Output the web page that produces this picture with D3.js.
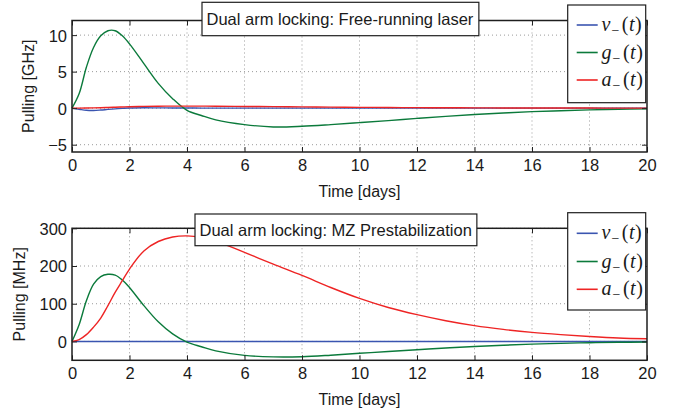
<!DOCTYPE html>
<html><head><meta charset="utf-8">
<script src="https://cdn.jsdelivr.net/npm/d3@7"></script>
<style>
body{margin:0;background:#fff}
svg{display:block}
</style>
</head><body>
<svg id="c" width="678" height="415"></svg>
<script>
// ---- data ----
const time = [0,0.25,0.5,0.75,1,1.25,1.5,1.75,2,2.5,3,3.5,4,4.5,5,6,7,8,9,10,11,12,13,14,15,16,17,18,19,20];

// Top panel: Free-running laser [GHz]
const vTop = [0,-0.15,-0.29,-0.32,-0.26,-0.17,-0.09,-0.03,0.02,0.05,0.04,0.03,0.02,0.01,0.01,0,0,0,0,0,0,0,0,0,0,0,0,0,0,0];
const gTop = [0,2.0,5.6,8.3,9.9,10.6,10.6,9.9,8.8,6.1,3.4,1.3,-0.3,-1.0,-1.6,-2.25,-2.57,-2.48,-2.25,-1.98,-1.7,-1.4,-1.12,-0.87,-0.66,-0.48,-0.35,-0.24,-0.16,-0.1];
const aTop = [0,0.005,0.018,0.038,0.062,0.095,0.13,0.161,0.192,0.24,0.265,0.277,0.28,0.276,0.266,0.236,0.205,0.175,0.143,0.114,0.09,0.071,0.055,0.042,0.032,0.024,0.018,0.013,0.009,0.007];

// Bottom panel: MZ Prestabilization [MHz]
const vBot = [0,0,0,0,0,0,0,0,0,0,0,0,0,0,0,0,0,0,0,0,0,0,0,0,0,0,0,0,0,0];
const gBot = [0,45,108,152,172,178,176,163,143,95,52,20,-2,-14,-25,-37,-41,-40.5,-36.5,-31.5,-26.5,-22,-17.5,-13.5,-10,-7,-5,-3.4,-2.3,-1.6];
const aBot = [0,5,18,38,62,95,130,161,192,240,265,277,280,276,266,236,205,175,143,114,90,71,55,42,32,24,18,13,9,7];

const xTicks = [0,2,4,6,8,10,12,14,16,18,20];
const yTicksTop = [-5,0,5,10];
const yTicksBot = [0,100,200,300];
const seriesLetters = ["v","g","a"];
const seriesColors = ["#3a55b0","#0b7a3b","#ee2424"];
const titles = ["Dual arm locking: Free-running laser","Dual arm locking: MZ Prestabilization"];
const yLabels = ["Pulling [GHz]","Pulling [MHz]"];
const xLabel = "Time [days]";

// ---- layout ----
const SANS = '"Liberation Sans",Arial,Helvetica,sans-serif';
const SERIF = '"Liberation Serif","DejaVu Serif",serif';
const svg = d3.select("#c");
const X0 = 72, X1 = 647;
const panels = [
  {top:20.5, bottom:152, domain:[-6,12], ticks:yTicksTop, series:[vTop,gTop,aTop], title:titles[0], ylabel:yLabels[0], ylabX:33.5,
   titleX:206.5, titleY:25, boxTop:2.3, boxBot:35.7, legTop:5, legH:97.7, legY:[25,52.5,80]},
  {top:228.3, bottom:360.3, domain:[-50,300], ticks:yTicksBot, series:[vBot,gBot,aBot], title:titles[1], ylabel:yLabels[1], ylabX:25,
   titleX:199.5, titleY:236, boxTop:214, boxBot:245.7, legTop:212.7, legH:97.3, legY:[233.3,261.5,289.3]}
];

const x = d3.scaleLinear().domain([0,20]).range([X0,X1]);

panels.forEach(p => {
  const y = d3.scaleLinear().domain(p.domain).range([p.bottom,p.top]);
  const g = svg.append("g");

  // grid
  const grid = g.append("g").attr("stroke","#9a9a9a").attr("stroke-width",1).attr("stroke-dasharray","1,3");
  xTicks.slice(1,-1).forEach(t => grid.append("line").attr("x1",x(t)).attr("x2",x(t)).attr("y1",p.top).attr("y2",p.bottom));
  p.ticks.forEach(t => grid.append("line").attr("x1",X0).attr("x2",X1).attr("y1",y(t)).attr("y2",y(t)));

  // curves
  const line = d3.line().x((d,i)=>x(time[i])).y(d=>y(d)).curve(d3.curveCatmullRom.alpha(0.5));
  p.series.forEach((s,k) => {
    g.append("path").datum(s).attr("d",line).attr("fill","none")
      .attr("stroke",seriesColors[k]).attr("stroke-width",1.4);
  });

  // axes with inward ticks on all sides
  const tl = 5;
  const axB = g.append("g").attr("transform",`translate(0,${p.bottom})`)
    .call(d3.axisBottom(x).tickValues(xTicks).tickSize(-tl).tickPadding(8).tickFormat(d3.format("d")));
  const axT = g.append("g").attr("transform",`translate(0,${p.top})`)
    .call(d3.axisTop(x).tickValues(xTicks).tickSize(-tl).tickFormat(""));
  const axL = g.append("g").attr("transform",`translate(${X0},0)`)
    .call(d3.axisLeft(y).tickValues(p.ticks).tickSize(-tl).tickPadding(5).tickFormat(d3.format("d")));
  const axR = g.append("g").attr("transform",`translate(${X1},0)`)
    .call(d3.axisRight(y).tickValues(p.ticks).tickSize(-tl).tickFormat(""));
  [axB,axT,axL,axR].forEach(a => {
    a.select(".domain").remove();
    a.selectAll(".tick line").attr("stroke","#222").attr("stroke-width",1);
    a.selectAll("text").style("font-size","16.5px").style("fill","#1a1a1a").style("font-family",SANS);
  });
  axB.selectAll("text").attr("dy","0.71em").attr("y",7);
  axL.selectAll("text").attr("dy","0.36em");
  g.append("rect").attr("x",X0).attr("y",p.top).attr("width",X1-X0).attr("height",p.bottom-p.top)
    .attr("fill","none").attr("stroke","#1e1e1e").attr("stroke-width",1.5);

  // axis labels
  g.append("text").attr("x",x(10)).attr("y",p.bottom+45).attr("text-anchor","middle")
    .style("font-family",SANS).style("font-size","16px").style("fill","#1a1a1a").text(xLabel);
  g.append("text").attr("transform",`translate(${p.ylabX},${(p.top+p.bottom)/2}) rotate(-90)`)
    .attr("text-anchor","middle").style("font-family",SANS).style("font-size","16px").style("fill","#1a1a1a").text(p.ylabel);

  // title box
  const tt = g.append("text").attr("x",p.titleX).attr("y",p.titleY)
    .style("font-family",SANS).style("font-size","16.5px").style("fill","#1a1a1a").text(p.title);
  const bb = tt.node().getBBox();
  g.insert("rect", () => tt.node()).attr("x",p.titleX-4.5).attr("y",p.boxTop)
    .attr("width",bb.width+9.5).attr("height",p.boxBot-p.boxTop)
    .attr("fill","#fff").attr("stroke","#1e1e1e").attr("stroke-width",1.2);

  // legend
  const lg = g.append("g");
  lg.append("rect").attr("x",567.7).attr("y",p.legTop).attr("width",78).attr("height",p.legH)
    .attr("fill","#fff").attr("stroke","#1e1e1e").attr("stroke-width",1.2);
  seriesLetters.forEach((L,k) => {
    const ly = p.legY[k];
    lg.append("line").attr("x1",576.7).attr("x2",597.7).attr("y1",ly).attr("y2",ly)
      .attr("stroke",seriesColors[k]).attr("stroke-width",1.6);
    const t = lg.append("text").attr("x",601.5).attr("y",ly+6)
      .style("font-family",SERIF).style("font-size","20px").style("fill","#1a1a1a");
    t.append("tspan").style("font-style","italic").text(L);
    t.append("tspan").attr("dy",4).style("font-size","14px").attr("dx",1).text("−");
    t.append("tspan").attr("dy",-4).attr("dx",2.5).text("(");
    t.append("tspan").style("font-style","italic").attr("dx",0.5).text("t");
    t.append("tspan").attr("dx",0.5).text(")");
  });
});
</script>
</body></html>
